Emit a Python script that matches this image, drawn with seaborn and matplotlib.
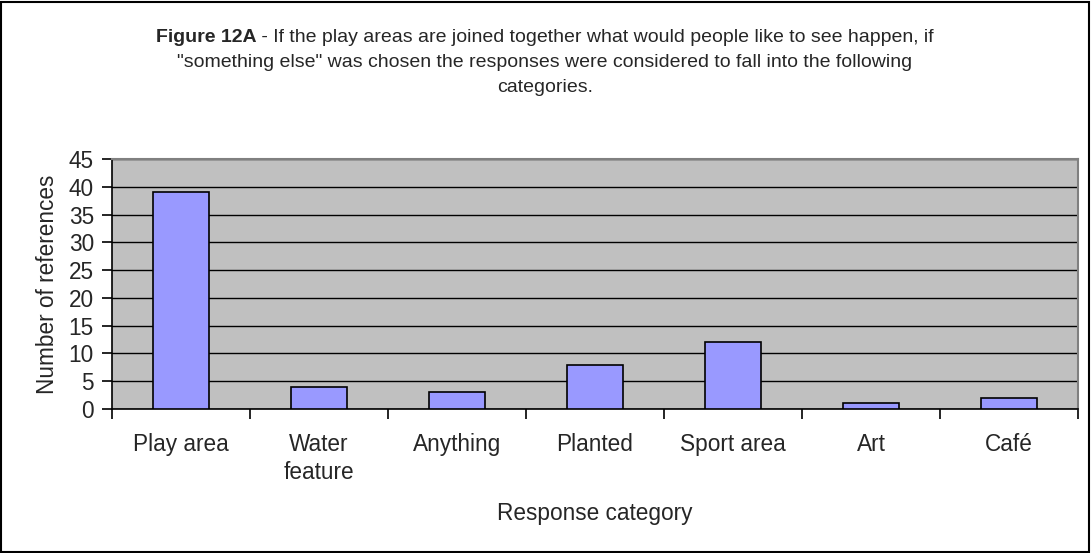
import numpy as np
import pandas as pd
import matplotlib
matplotlib.use('Agg')
import matplotlib.pyplot as plt
import seaborn as sns

#chart data
categories = ['Play area', 'Water\nfeature', 'Anything', 'Planted', 'Sport area', 'Art', 'Café']
counts = [39, 4, 3, 8, 12, 1, 2]
y_ticks = [0, 5, 10, 15, 20, 25, 30, 35, 40, 45]

title_bold = 'Figure 12A'
title_rest = ' - If the play areas are joined together what would people like to see happen, if'
title_line2 = '"something else" was chosen the responses were considered to fall into the following'
title_line3 = 'categories.'

df = pd.DataFrame({'category': categories, 'count': counts})

sns.set_style('white')
plt.rcParams['font.family'] = ['Liberation Sans', 'DejaVu Sans']

FS = 16.3
TFS = 14

fig = plt.figure(figsize=(10.91, 5.53), dpi=100)
ax = fig.add_axes([112/1091, 144/553, 966/1091, 250/553])

sns.barplot(data=df, x='category', y='count', color='#9999FF', edgecolor='black',
            linewidth=1.2, width=0.41, saturation=1, ax=ax, zorder=3)

ax.set_facecolor('#C0C0C0')
ax.set_ylim(0, 45)
ax.set_xlim(-0.5, len(categories) - 0.5)
ax.set_yticks(y_ticks)
ax.yaxis.grid(True, color='black', linewidth=1)
ax.set_axisbelow(True)

# ticks sit on the category boundaries
ax.set_xticks(np.arange(-0.5, len(categories)), minor=True)
ax.tick_params(axis='x', which='major', length=0, pad=17, labelsize=FS)
ax.tick_params(axis='x', which='minor', length=7, width=1.2, color='black', direction='out', bottom=True)
ax.tick_params(axis='y', length=7, width=1.2, color='black', direction='out', left=True, labelsize=FS, pad=6)
for lab in ax.get_xticklabels():
    lab.set_linespacing(1.3)

for s in ['left', 'bottom']:
    ax.spines[s].set_color('black')
    ax.spines[s].set_linewidth(1.2)
for s in ['right', 'top']:
    ax.spines[s].set_color('#808080')
    ax.spines[s].set_linewidth(1.5)

ax.set_xlabel('Response category', fontsize=FS, labelpad=13)
ax.set_ylabel('Number of references', fontsize=FS, labelpad=7)

# title: bold prefix + regular text on the first line
fig.canvas.draw()
r = fig.canvas.get_renderer()
t1 = fig.text(0, 0, title_bold, fontsize=TFS, fontweight='bold', va='center')
t2 = fig.text(0, 0, title_rest, fontsize=TFS, va='center')
w1 = t1.get_window_extent(r).width
w2 = t2.get_window_extent(r).width
cx = 545
x0 = cx - (w1 + w2) / 2
t1.set_position((x0 / 1091, 1 - 38 / 553))
t2.set_position(((x0 + w1) / 1091, 1 - 38 / 553))
fig.text(cx / 1091, 1 - 63 / 553, title_line2, fontsize=TFS, ha='center', va='center')
fig.text(cx / 1091, 1 - 87 / 553, title_line3, fontsize=TFS, ha='center', va='center')

# outer border
fig.patches.append(plt.Rectangle((1 / 1091, 1 / 553), 1088 / 1091, 550 / 553, transform=fig.transFigure,
                                 fill=False, edgecolor='black', linewidth=1.5))

fig.savefig('out.png', dpi=100)
